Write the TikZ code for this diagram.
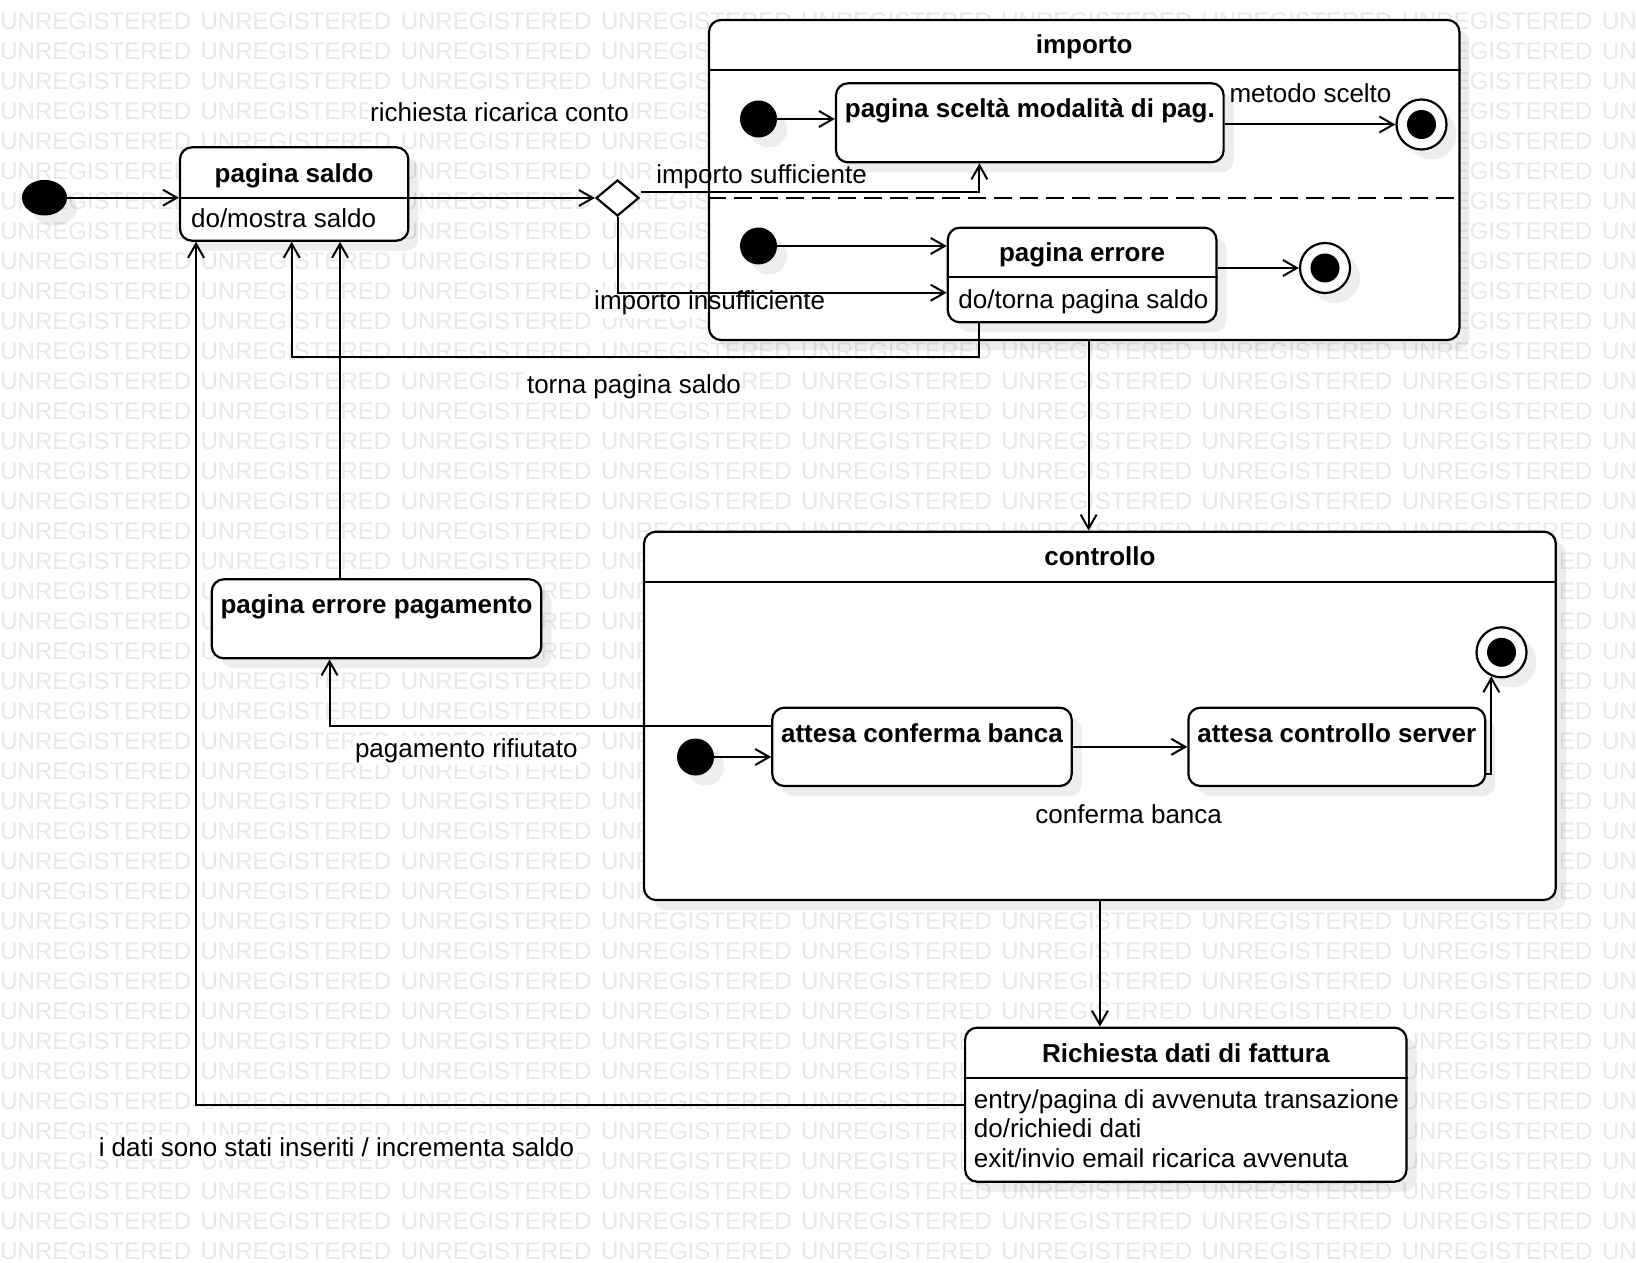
\documentclass[tikz,border=0pt]{standalone}
\usepackage{fontspec}
\setmainfont{Liberation Sans}
\usetikzlibrary{arrows.meta,shapes.geometric,shadows,calc}
\pgfdeclarelayer{wm}
\pgfdeclarelayer{mask}
\pgfsetlayers{wm,mask,main}
\newcommand\fs{\fontsize{13pt}{14.5pt}\selectfont}
\newcommand\wmfs{\fontsize{12pt}{12pt}\selectfont}
\begin{document}
\begin{tikzpicture}[x=0.5pt,y=-0.5pt,
  lw/.style={line width=1.1pt},
  shad/.style={drop shadow={shadow xshift=5pt,shadow yshift=-5pt,fill=black,opacity=0.07}},
  box/.style={draw,lw,fill=white,rounded corners=6pt,inner sep=0,shad},
  ttl/.style={font=\fs\bfseries,anchor=base,inner sep=0},
  bdy/.style={font=\fs,anchor=base west,inner sep=0},
  lbl/.style={font=\fs,anchor=base,inner sep=1pt},
  initst/.style={circle,fill=black,draw=none,minimum size=18.5pt,inner sep=0,shad},
  finalst/.style={circle,draw,lw,fill=white,minimum size=25pt,inner sep=0,shad,
    path picture={\fill[black] (path picture bounding box.center) circle (7.25pt);}},
  arr/.style={line width=1pt,-{Straight Barb[length=7pt,width=8pt]}},
  wmtext/.style={font=\wmfs,text=black!9,anchor=base west,inner sep=0}
]
\useasboundingbox (0,0) rectangle (1636,1262);

% watermark
\begin{pgfonlayer}{wm}
\fill[white] (0,0) rectangle (1636,1262);
\foreach \k in {0,...,41}{
  \foreach \j in {0,...,8}{
    \node[wmtext] (wm-\k-\j) at ({200.2*\j},{29.3+30*\k}) {UNREGISTERED};
  }
}
\end{pgfonlayer}

% composite states
\node[box,minimum width=375.2pt,minimum height=160pt] (imp) at (1084.2,180) {};
\draw[lw] (imp.west |- 0,70) -- (imp.east |- 0,70);
\draw[lw,dash pattern=on 9pt off 4pt] (imp.west |- 0,198.3) -- (imp.east |- 0,198.3);
\node[ttl] (imp-t) at (1084.2,53.2) {importo};

\node[box,minimum width=455.9pt,minimum height=184.15pt] (ctrl) at (1099.9,715.85) {};
\draw[lw] (ctrl.west |- 0,581.7) -- (ctrl.east |- 0,581.7);
\node[ttl] (ctrl-t) at (1099.9,565.5) {controllo};

% simple states
\node[box,minimum width=114.15pt,minimum height=46.7pt] (saldo) at (294.15,194) {};
\draw[lw] (saldo.west |- 0,198.3) -- (saldo.east |- 0,198.3);
\node[ttl] (saldo-t) at (294.15,182.2) {pagina saldo};
\node[bdy] (saldo-b) at (190.7,228) {do/mostra saldo};

\node[box,minimum width=193.8pt,minimum height=39.5pt] (scelta) at (1029.8,122.8) {};
\node[ttl] (scelta-t) at (1029.8,118) {pagina sceltà modalità di pag.};

\node[box,minimum width=134.3pt,minimum height=47.3pt] (perr) at (1082.1,275) {};
\draw[lw] (perr.west |- 0,277.3) -- (perr.east |- 0,277.3);
\node[ttl] (perr-t) at (1082.1,262) {pagina errore};
\node[bdy] (perr-b) at (958,308) {do/torna pagina saldo};

\node[box,minimum width=164.75pt,minimum height=39.5pt] (perrpag) at (376.55,618.8) {};
\node[ttl] (perrpag-t) at (376.55,613.7) {pagina errore pagamento};

\node[box,minimum width=149.7pt,minimum height=39.15pt] (banca) at (922,746.85) {};
\node[ttl] (banca-t) at (922,742.5) {attesa conferma banca};

\node[box,minimum width=148.4pt,minimum height=39.15pt] (server) at (1336.8,746.85) {};
\node[ttl] (server-t) at (1336.8,742.5) {attesa controllo server};

\node[box,minimum width=220.7pt,minimum height=77pt] (rich) at (1185.8,1104.7) {};
\draw[lw] (rich.west |- 0,1077.7) -- (rich.east |- 0,1077.7);
\node[ttl] (rich-t) at (1185.8,1062) {Richiesta dati di fattura};
\node[bdy] (rich-b1) at (973.5,1108) {entry/pagina di avvenuta transazione};
\node[bdy] (rich-b2) at (973.5,1137) {do/richiedi dati};
\node[bdy] (rich-b3) at (973.5,1167) {exit/invio email ricarica avvenuta};

% pseudo states
\node[ellipse,fill=black,draw=none,minimum width=22.5pt,minimum height=17.8pt,inner sep=0,shad] (i0) at (44.5,197.7) {};
\node[initst] (i1) at (758.5,119) {};
\node[initst] (i2) at (758.5,246) {};
\node[initst] (i3) at (695.5,757) {};
\node[finalst] (f1) at (1421.5,124.5) {};
\node[finalst] (f2) at (1325,268) {};
\node[finalst] (f3) at (1501.5,652.3) {};
\node[diamond,draw,lw,fill=white,minimum width=21.5pt,minimum height=18pt,inner sep=0] (dia) at (617.5,198) {};

% labels
\node[lbl] (l1) at (499.5,122) {richiesta ricarica conto};
\node[lbl] (l2) at (761.5,184) {importo sufficiente};
\node[lbl] (l3) at (709.6,310) {importo insufficiente};
\node[lbl] (l4) at (1310.5,102.5) {metodo scelto};
\node[lbl] (l5) at (634,393) {torna pagina saldo};
\node[lbl] (l6) at (466.3,757) {pagamento rifiutato};
\node[lbl] (l7) at (1128.7,823.5) {conferma banca};
\node[lbl] (l8) at (336.5,1156.5) {i dati sono stati inseriti / incrementa saldo};

\begin{pgfonlayer}{mask}
\foreach \n in {l1,l2,l3,l4,l5,l6,l7,l8}{
  \fill[white] (\n.south west) rectangle (\n.north east);
}
\end{pgfonlayer}

% transitions
\draw[arr] (i0.east) -- (i0.east -| saldo.west);
\draw[arr] (dia.west -| saldo.east) -- (dia.west);
\draw[arr] ([shift={(1,-6.3)}]dia.east) -| ([xshift=-25.2pt]scelta.south);
\draw[arr] (dia.south) |- ([yshift=-8.85pt]perr.west);
\draw[arr] (i1.east) -- (i1.east -| scelta.west);
\draw[arr] (f1.west -| scelta.east) -- (f1.west);
\draw[arr] (i2.east) -- (i2.east -| perr.west);
\draw[arr] (f2.west -| perr.east) -- (f2.west);
\draw[arr] ([xshift=-51.35pt]perr.south) -- ++(0,33.7) -| ([xshift=-1.2pt]saldo.south);
\draw[arr] ([xshift=2.2pt]imp.south) -- ([xshift=2.2pt]imp.south |- ctrl.north);
\draw[arr] ([xshift=-18.25pt]perrpag.north) -- ([xshift=-18.25pt]perrpag.north |- saldo.south);
\draw[arr] (i3.east) -- (i3.east -| banca.west);
\draw[arr] ([yshift=10.6pt]banca.west) -| ([xshift=-23.5pt]perrpag.south);
\draw[arr] (banca.east) -- (banca.east -| server.west);
\draw[arr] ([yshift=-13.55pt]server.east) -| (f3.-113.6);
\draw[arr] (ctrl.south) -- (ctrl.south |- rich.north);
\draw[arr] (rich.west) -| ([xshift=-49.05pt]saldo.south);
\end{tikzpicture}
\end{document}
